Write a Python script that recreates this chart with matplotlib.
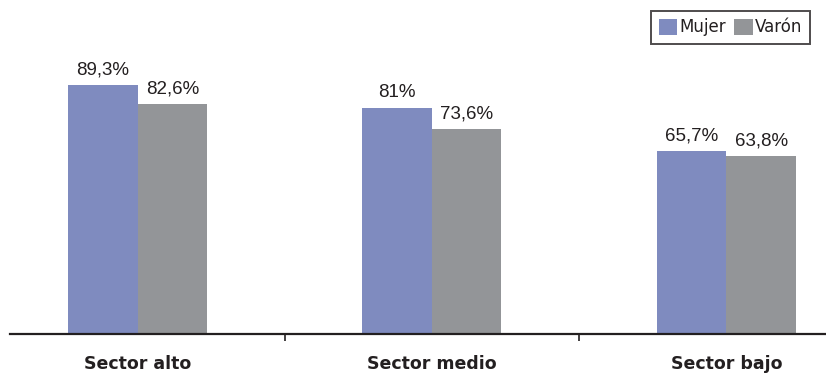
import matplotlib
matplotlib.use("Agg")
import matplotlib.pyplot as plt
import numpy as np
from matplotlib.patches import Patch

categories = ["Sector alto", "Sector medio", "Sector bajo"]
mujer = [89.3, 81.0, 65.7]
varon = [82.6, 73.6, 63.8]
mujer_labels = ["89,3%", "81%", "65,7%"]
varon_labels = ["82,6%", "73,6%", "63,8%"]
series_names = ["Mujer", "Varón"]

c_m = "#7f8bbf"
c_v = "#939598"
txt = "#231f20"

fig = plt.figure(figsize=(8.26, 3.80), dpi=100)
ax = fig.add_axes([10/826, 46/380, 816/826, 334/380])

x = np.arange(len(categories))
w = 0.236
ax.bar(x - w/2, mujer, w, color=c_m)
ax.bar(x + w/2, varon, w, color=c_v)

for xi, v, t in zip(x - w/2, mujer, mujer_labels):
    ax.text(xi, v + 2.4, t, ha="center", va="bottom", fontsize=13.5,
            family="Liberation Sans", color=txt)
for xi, v, t in zip(x + w/2, varon, varon_labels):
    ax.text(xi, v + 2.4, t, ha="center", va="bottom", fontsize=13.5,
            family="Liberation Sans", color=txt)

ax.set_xlim(-0.433, 2.338)
ax.set_ylim(0, 119.8)
ax.set_yticks([])
for s in ["top", "right", "left"]:
    ax.spines[s].set_visible(False)
ax.spines["bottom"].set_linewidth(1.6)
ax.spines["bottom"].set_color(txt)

ax.set_xticks(x)
ax.set_xticklabels(categories, fontsize=12.5, fontweight="bold",
                   family="DejaVu Sans", color=txt)
ax.tick_params(axis="x", which="major", length=0, pad=15)
ax.set_xticks([0.5, 1.5], minor=True)
ax.tick_params(axis="x", which="minor", length=5, width=1.2, color=txt)

handles = [Patch(facecolor=c_m, edgecolor="none"), Patch(facecolor=c_v, edgecolor="none")]
leg = fig.legend(handles, series_names, loc="upper right",
                 bbox_to_anchor=(810/826, 1 - 11/380),
                 ncol=2, frameon=True, fancybox=False,
                 handlelength=1.1, handleheight=1.1, handletextpad=0.15,
                 columnspacing=0.5, borderpad=0.45, borderaxespad=0,
                 prop={"family": "DejaVu Sans", "size": 12})
for t in leg.get_texts():
    t.set_color(txt)
leg.get_frame().set_edgecolor(txt)
leg.get_frame().set_linewidth(1.4)

fig.savefig("out.png", dpi=100)
